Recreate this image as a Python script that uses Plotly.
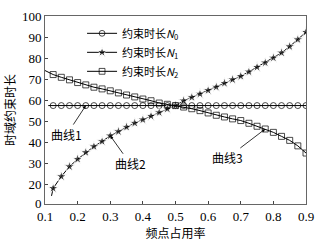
import plotly.graph_objects as go

# ---- data ----
x_mark = [0.125, 0.15, 0.175, 0.2, 0.225, 0.25, 0.275, 0.3, 0.325, 0.35, 0.375, 0.4,
          0.425, 0.45, 0.475, 0.5, 0.525, 0.55, 0.575, 0.6, 0.625, 0.65, 0.675, 0.7,
          0.725, 0.75, 0.775, 0.8, 0.825, 0.85, 0.875, 0.9]

n0_x = [0.11] + x_mark
n0_y = [57.6] * len(n0_x)

n1_x = [0.12] + x_mark
n1_y = [14.8, 18.4, 24.0, 28.7, 32.2, 35.4, 38.2, 40.6, 43.3, 45.3, 47.4, 49.3, 50.9,
        52.6, 54.3, 56.0, 57.6, 59.9, 61.5, 63.1, 64.8, 66.4, 68.2, 69.9, 71.5,
        73.6, 75.8, 77.9, 80.2, 82.6, 85.6, 88.9, 92.4]

n2_x = [0.1] + x_mark
n2_y = [74.2, 72.3, 71.0, 69.8, 68.5, 67.4, 66.3, 65.5, 64.6, 63.6, 62.6, 61.7, 60.7,
        59.9, 58.8, 58.2, 57.6, 56.9, 56.1, 55.2, 54.1, 53.0, 52.2, 51.3, 50.5,
        49.2, 47.8, 46.5, 44.9, 43.0, 41.1, 38.5, 35.1]

names = ["约束时长<i>N</i><sub>0</sub>", "约束时长<i>N</i><sub>1</sub>", "约束时长<i>N</i><sub>2</sub>"]

x_ticks = [0.1, 0.2, 0.3, 0.4, 0.5, 0.6, 0.7, 0.8, 0.9]
x_ticktext = ["0.1", "0.2", "0.3", "0.4", "0.5", "0.6", "0.7", "0.8", "0.9"]
y_ticks = [11, 20, 30, 40, 50, 60, 70, 80, 90, 100]
y_ticktext = ["0", "20", "30", "40", "50", "60", "70", "80", "90", "100"]

# annotation labels: (text, curve x, curve y, index of the point the arrow touches)
labels = [("曲线1", n0_x, n0_y, 5), ("曲线2", n1_x, n1_y, 8), ("曲线3", n2_x, n2_y, 27)]

CJK = "Noto Sans CJK SC"
SERIF = "Liberation Serif, Times New Roman, serif"

fig = go.Figure()

def sizes(n, s):
    return [0] + [s] * (n - 1)

fig.add_trace(go.Scatter(x=n0_x, y=n0_y, mode="lines+markers", name=names[0],
                         line=dict(color="black", width=1),
                         marker=dict(symbol="circle-open", size=sizes(len(n0_x), 6),
                                     color="black", line=dict(width=1))))
fig.add_trace(go.Scatter(x=n1_x, y=n1_y, mode="lines+markers", name=names[1],
                         line=dict(color="black", width=1),
                         marker=dict(symbol="star", size=sizes(len(n1_x), 8), color="black")))
fig.add_trace(go.Scatter(x=n2_x, y=n2_y, mode="lines+markers", name=names[2],
                         line=dict(color="black", width=1),
                         marker=dict(symbol="square-open", size=sizes(len(n2_x), 6),
                                     color="black", line=dict(width=1))))

offsets = [(-19, 29), (20, 28), (-38, 29)]
for (txt, xs, ys, i), (ax, ay) in zip(labels, offsets):
    fig.add_annotation(x=xs[i], y=ys[i], text=txt, showarrow=True, arrowhead=2,
                       arrowsize=0.8, arrowwidth=0.8, arrowcolor="black",
                       ax=ax, ay=ay, font=dict(family=CJK, size=12, color="black"))

fig.update_layout(
    width=328, height=243,
    margin=dict(l=45, r=22, t=16, b=39),
    paper_bgcolor="white", plot_bgcolor="white",
    font=dict(family=SERIF, size=12, color="black"),
    showlegend=True,
    legend=dict(x=0.142, y=0.985, xanchor="left", yanchor="top",
                bgcolor="rgba(0,0,0,0)", borderwidth=0,
                font=dict(family=CJK, size=11, color="black"),
                tracegroupgap=0, itemwidth=30),
    xaxis=dict(range=[0.1, 0.9], tickvals=x_ticks, ticktext=x_ticktext,
               ticks="inside", ticklen=3, tickcolor="#444",
               showline=True, linecolor="#666", linewidth=1, mirror=True,
               showgrid=False, zeroline=False, automargin=False,
               tickfont=dict(family=SERIF, size=13),
               title=dict(text="频点占用率", font=dict(family=CJK, size=12), standoff=0)),
    yaxis=dict(range=[10.95, 100.05], tickvals=y_ticks, ticktext=y_ticktext,
               ticks="inside", ticklen=3, tickcolor="#444",
               showline=True, linecolor="#666", linewidth=1, mirror=True,
               showgrid=False, zeroline=False, automargin=False,
               tickfont=dict(family=SERIF, size=13),
               title=dict(text="时域约束时长", font=dict(family=CJK, size=12), standoff=3)),
)

fig.write_html("out.html", config={"displayModeBar": False},
               post_script="document.body.style.margin='0';document.body.style.overflow='hidden';")
